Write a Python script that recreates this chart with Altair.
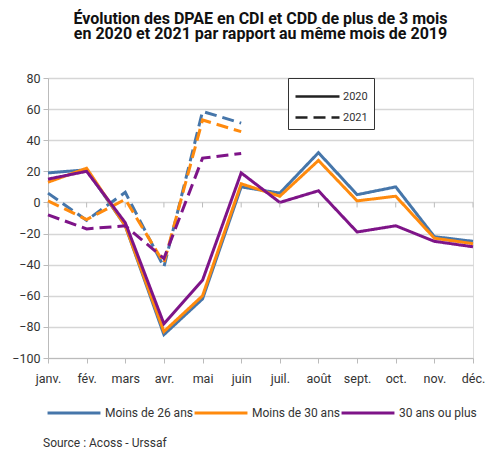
import altair as alt
import pandas as pd

months = ["janv.", "fév.", "mars", "avr.", "mai", "juin", "juil.", "août", "sept.", "oct.", "nov.", "déc."]
series = ["Moins de 26 ans", "Moins de 30 ans", "30 ans ou plus"]
colors = ["#4676aa", "#ff8a0d", "#7e1488"]
years = ["2020", "2021"]
y_ticks = [-100, -80, -60, -40, -20, 0, 20, 40, 60, 80]

m26_2020 = [19, 21, -15, -85, -62, 10, 6, 32, 5, 10, -22, -25]
m30_2020 = [13, 22, -15, -83, -60, 12, 4, 27, 1, 4, -23, -26.5]
p30_2020 = [15, 20, -13, -78, -50, 19, 0, 7.5, -19, -15, -25, -28.5]

m26_2021 = [6, -11.5, 6.5, -41.5, 58.5, 51]
m30_2021 = [1, -11, 2, -39, 53, 45.5]
p30_2021 = [-8, -17, -15, -36, 28.5, 31.5]

title_lines = ["Évolution des DPAE en CDI et CDD de plus de 3 mois",
               "en 2020 et 2021 par rapport au même mois de 2019"]
source_text = ["Source : Acoss - Urssaf"]

FONT = "Roboto, Liberation Sans, sans-serif"

rows = []
for name, v20, v21 in zip(series, [m26_2020, m30_2020, p30_2020], [m26_2021, m30_2021, p30_2021]):
    for m, v in zip(months, v20):
        rows.append({"mois": m, "serie": name, "annee": "2020", "valeur": v})
    for m, v in zip(months, v21):
        rows.append({"mois": m, "serie": name, "annee": "2021", "valeur": v})
df = pd.DataFrame(rows)

x_scale = alt.Scale(type="point", padding=0)
x_axis = alt.Axis(title=None, labelAngle=0, labelFont=FONT, labelFontSize=12.5,
                  labelColor="#333333", domainColor="#bbbbbb", tickColor="#bbbbbb",
                  tickSize=5, labelPadding=9, grid=False)
y_scale = alt.Scale(domain=[-100, 80], nice=False, zero=False)
y_axis = alt.Axis(title=None, values=y_ticks, labelFont=FONT,
                  labelFontSize=12.5, labelColor="#333333", domainColor="#bbbbbb",
                  tickColor="#bbbbbb", tickSize=5, labelPadding=3, labelOverlap=False,
                  gridColor="#d6d6d6", gridWidth=1.5)

lines = alt.Chart(df).mark_line(strokeWidth=3).encode(
    x=alt.X("mois:N", sort=months, scale=x_scale, axis=x_axis),
    y=alt.Y("valeur:Q", scale=y_scale, axis=y_axis),
    color=alt.Color("serie:N", scale=alt.Scale(domain=series, range=colors),
                    legend=alt.Legend(title=None, orient="none", legendX=-2, legendY=307,
                                      direction="horizontal", symbolType="stroke",
                                      symbolSize=2800, symbolStrokeWidth=3,
                                      labelFont=FONT, labelFontSize=12, labelColor="#333333",
                                      labelOffset=3, columnPadding=-26)),
    strokeDash=alt.StrokeDash("annee:N", scale=alt.Scale(domain=years, range=[[1, 0], [12, 6]]),
                              legend=alt.Legend(title=None, orient="none", legendX=240, legendY=0,
                                                direction="vertical", symbolType="M-2,0H2",
                                                symbolSize=484, symbolStrokeWidth=2.5,
                                                symbolStrokeColor="#222222", symbolOffset=11,
                                                strokeColor="#333333", fillColor="white",
                                                padding=6, rowPadding=3,
                                                labelFont=FONT, labelFontSize=11,
                                                labelColor="#333333", labelOffset=13)),
)

zero_ticks = alt.Chart(pd.DataFrame({"mois": months})).mark_rule(
    color="#bbbbbb", strokeWidth=1, y2Offset=5
).encode(
    x=alt.X("mois:N", sort=months, scale=x_scale, axis=x_axis),
    y=alt.YDatum(0, scale=y_scale, axis=y_axis),
    y2=alt.Y2Datum(0),
)

source = alt.Chart(pd.DataFrame({"t": source_text})).mark_text(
    align="left", baseline="middle", font=FONT, fontSize=12, color="#333333"
).encode(text="t:N", x=alt.value(-5), y=alt.value(365))

chart = alt.layer(lines, zero_ticks, source).properties(
    width=425,
    height=280,
    autosize=alt.AutoSizeParams(type="none"),
    padding={"left": 40, "top": 70, "right": 13, "bottom": 90},
    title=alt.TitleParams(title_lines, font=FONT, fontSize=16, fontWeight="bold",
                          anchor="middle", offset=30, lineHeight=15, color="#111111"),
).configure_view(stroke="#cccccc", strokeWidth=1.5).configure(background="white")

chart.save("out.html", embed_options={"renderer": "svg", "actions": False})
